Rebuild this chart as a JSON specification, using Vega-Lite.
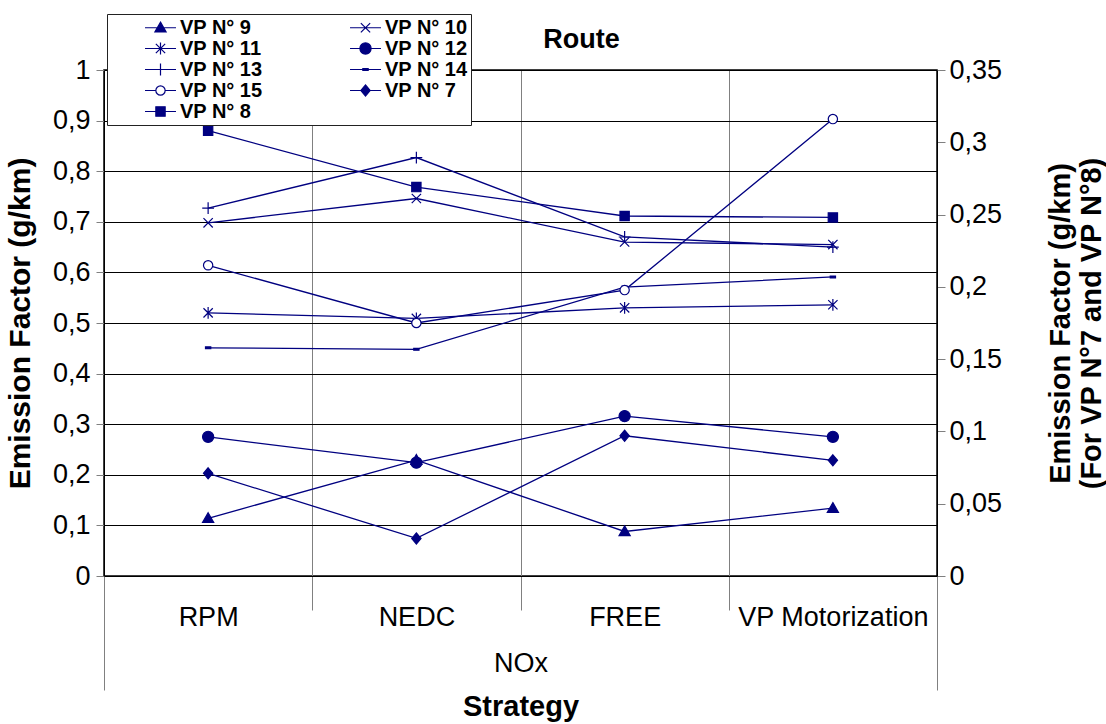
{
  "$schema": "https://vega.github.io/schema/vega-lite/v6.json",
  "width": 833,
  "height": 506,
  "autosize": {"type": "none"},
  "padding": {"left": 104, "top": 70, "right": 169, "bottom": 148},
  "background": "white",
  "config": {
    "font": "Liberation Sans",
    "view": {"stroke": "#000", "strokeWidth": 1.5},
    "axis": {
      "labelFont": "Liberation Sans",
      "labelFontSize": 27,
      "labelColor": "#000",
      "labelLimit": 0,
      "titleFont": "Liberation Sans",
      "titleFontSize": 30,
      "titleFontWeight": "bold",
      "titleColor": "#000",
      "domainColor": "#000",
      "tickColor": "#808080"
    },
    "legend": {
      "direction": "horizontal",
      "columns": 2,
      "columnPadding": 84,
      "rowPadding": 0,
      "padding": 3,
      "symbolSize": 361,
      "symbolStrokeColor": "#000080",
      "symbolStrokeWidth": 1.2,
      "labelFont": "Liberation Sans",
      "labelFontSize": 20,
      "labelFontWeight": "bold",
      "labelColor": "#000",
      "labelOffset": 9,
      "labelLimit": 0,
      "fillColor": "white",
      "strokeColor": "#222",
      "titleOrient": "left",
      "titlePadding": 40,
      "titleFontSize": 21
    }
  },
  "title": {
    "text": "Route",
    "font": "Liberation Sans",
    "fontSize": 27,
    "fontWeight": "bold",
    "color": "#000",
    "anchor": "middle",
    "frame": "group",
    "offset": 0,
    "dx": 61,
    "dy": 40
  },
  "datasets": {
    "ef": [
      {"strategy": "RPM", "vehicle": "VP N° 9", "value": 0.114},
      {"strategy": "NEDC", "vehicle": "VP N° 9", "value": 0.229},
      {"strategy": "FREE", "vehicle": "VP N° 9", "value": 0.088},
      {"strategy": "VP Motorization", "vehicle": "VP N° 9", "value": 0.134},
      {"strategy": "RPM", "vehicle": "VP N° 10", "value": 0.698},
      {"strategy": "NEDC", "vehicle": "VP N° 10", "value": 0.746},
      {"strategy": "FREE", "vehicle": "VP N° 10", "value": 0.660},
      {"strategy": "VP Motorization", "vehicle": "VP N° 10", "value": 0.655},
      {"strategy": "RPM", "vehicle": "VP N° 11", "value": 0.520},
      {"strategy": "NEDC", "vehicle": "VP N° 11", "value": 0.509},
      {"strategy": "FREE", "vehicle": "VP N° 11", "value": 0.530},
      {"strategy": "VP Motorization", "vehicle": "VP N° 11", "value": 0.536},
      {"strategy": "RPM", "vehicle": "VP N° 12", "value": 0.275},
      {"strategy": "NEDC", "vehicle": "VP N° 12", "value": 0.224},
      {"strategy": "FREE", "vehicle": "VP N° 12", "value": 0.316},
      {"strategy": "VP Motorization", "vehicle": "VP N° 12", "value": 0.275},
      {"strategy": "RPM", "vehicle": "VP N° 13", "value": 0.727},
      {"strategy": "NEDC", "vehicle": "VP N° 13", "value": 0.827},
      {"strategy": "FREE", "vehicle": "VP N° 13", "value": 0.670},
      {"strategy": "VP Motorization", "vehicle": "VP N° 13", "value": 0.650},
      {"strategy": "RPM", "vehicle": "VP N° 14", "value": 0.451},
      {"strategy": "NEDC", "vehicle": "VP N° 14", "value": 0.448},
      {"strategy": "FREE", "vehicle": "VP N° 14", "value": 0.571},
      {"strategy": "VP Motorization", "vehicle": "VP N° 14", "value": 0.591},
      {"strategy": "RPM", "vehicle": "VP N° 15", "value": 0.614},
      {"strategy": "NEDC", "vehicle": "VP N° 15", "value": 0.500},
      {"strategy": "FREE", "vehicle": "VP N° 15", "value": 0.565},
      {"strategy": "VP Motorization", "vehicle": "VP N° 15", "value": 0.903},
      {"strategy": "RPM", "vehicle": "VP N° 7", "value": 0.071},
      {"strategy": "NEDC", "vehicle": "VP N° 7", "value": 0.026},
      {"strategy": "FREE", "vehicle": "VP N° 7", "value": 0.097},
      {"strategy": "VP Motorization", "vehicle": "VP N° 7", "value": 0.080},
      {"strategy": "RPM", "vehicle": "VP N° 8", "value": 0.308},
      {"strategy": "NEDC", "vehicle": "VP N° 8", "value": 0.269},
      {"strategy": "FREE", "vehicle": "VP N° 8", "value": 0.249},
      {"strategy": "VP Motorization", "vehicle": "VP N° 8", "value": 0.248}
    ],
    "pol": [{"pollutant": "NOx"}]
  },
  "resolve": {"scale": {"x": "independent", "y": "independent"}},
  "layer": [
    {
      "data": {"name": "ef"},
      "transform": [{"filter": "datum.vehicle !== 'VP N° 7' && datum.vehicle !== 'VP N° 8'"}],
      "encoding": {
        "x": {
          "field": "strategy",
          "type": "nominal",
          "sort": ["RPM", "NEDC", "FREE", "VP Motorization"],
          "scale": {"type": "band", "domain": ["RPM", "NEDC", "FREE", "VP Motorization"], "paddingInner": 0, "paddingOuter": 0},
          "axis": {
            "orient": "bottom",
            "tickBand": "extent",
            "grid": true,
            "gridColor": "#808080",
            "gridWidth": 1,
            "ticks": true,
            "tickSize": 34,
            "tickColor": "#808080",
            "domainColor": "#000",
            "labelPadding": -6,
            "labelAngle": 0,
            "title": null
          }
        },
        "y": {
          "field": "value",
          "type": "quantitative",
          "scale": {"domain": [0, 1], "nice": false},
          "axis": {
            "orient": "left",
            "values": [0, 0.1, 0.2, 0.3, 0.4, 0.5, 0.6, 0.7, 0.8, 0.9, 1],
            "grid": true,
            "gridColor": "#000",
            "gridWidth": 1,
            "tickSize": 8,
            "labelPadding": 6,
            "labelExpr": "replace(format(datum.value, '.2~f'), '.', ',')",
            "title": "Emission Factor (g/km)",
            "titlePadding": 17
          }
        }
      },
      "layer": [
        {
          "mark": {"type": "line", "color": "#000080", "strokeWidth": 1.3},
          "encoding": {"detail": {"field": "vehicle"}}
        },
        {
          "mark": {"type": "point", "filled": true, "size": 961, "stroke": "#000080", "strokeWidth": 1.2, "opacity": 1},
          "encoding": {
            "shape": {
              "field": "vehicle",
              "type": "nominal",
              "scale": {
                "domain": ["VP N° 8", "VP N° 7", "VP N° 15", "VP N° 14", "VP N° 13", "VP N° 12", "VP N° 11", "VP N° 10", "VP N° 9"],
                "range": [
                  "M-0.3,-0.3L0.3,-0.3L0.3,0.3L-0.3,0.3Z",
                  "M0,-0.36L0.3,0L0,0.36L-0.3,0Z",
                  "M-0.3,0A0.3,0.3,0,1,0,0.3,0A0.3,0.3,0,1,0,-0.3,0Z",
                  "M-0.17,-0.06L0.17,-0.06L0.17,0.06L-0.17,0.06Z",
                  "M-0.38,0L0.38,0M0,-0.38L0,0.38",
                  "M-0.36,0A0.36,0.36,0,1,0,0.36,0A0.36,0.36,0,1,0,-0.36,0Z",
                  "M-0.3,-0.3L0.3,0.3M-0.3,0.3L0.3,-0.3M0,-0.38L0,0.38",
                  "M-0.3,-0.3L0.3,0.3M-0.3,0.3L0.3,-0.3",
                  "M0,-0.36L0.36,0.27L-0.36,0.27Z"
                ]
              },
              "legend": null
            },
            "fill": {
              "field": "vehicle",
              "type": "nominal",
              "scale": {
                "domain": ["VP N° 9", "VP N° 10", "VP N° 11", "VP N° 12", "VP N° 13", "VP N° 14", "VP N° 15", "VP N° 7", "VP N° 8"],
                "range": ["#000080", "#000080", "#000080", "#000080", "#000080", "#000080", "#ffffff", "#000080", "#000080"]
              },
              "legend": {
                "title": "\u00a0",
                "orient": "none",
                "legendX": 3,
                "legendY": -56,
                "direction": "horizontal",
                "columns": 2,
                "symbolType": {"expr": "datum.value === 'VP N° 9' ? 'M-1.63,0L1.63,0M0,-0.59L0.59,0.44L-0.59,0.44Z' : datum.value === 'VP N° 10' ? 'M-1.63,0L1.63,0M-0.49,-0.49L0.49,0.49M-0.49,0.49L0.49,-0.49' : datum.value === 'VP N° 11' ? 'M-1.63,0L1.63,0M-0.49,-0.49L0.49,0.49M-0.49,0.49L0.49,-0.49M0,-0.62L0,0.62' : datum.value === 'VP N° 12' ? 'M-1.63,0L1.63,0M-0.59,0A0.59,0.59,0,1,0,0.59,0A0.59,0.59,0,1,0,-0.59,0Z' : datum.value === 'VP N° 13' ? 'M-1.63,0L1.63,0M0,-0.62L0,0.62' : datum.value === 'VP N° 14' ? 'M-1.63,0L1.63,0M-0.28,-0.1L0.28,-0.1L0.28,0.1L-0.28,0.1Z' : datum.value === 'VP N° 15' ? 'M-1.63,0L-0.49,0M0.49,0L1.63,0M-0.49,0A0.49,0.49,0,1,0,0.49,0A0.49,0.49,0,1,0,-0.49,0Z' : datum.value === 'VP N° 7' ? 'M-1.63,0L1.63,0M0,-0.59L0.49,0L0,0.59L-0.49,0Z' : 'M-1.63,0L1.63,0M-0.49,-0.49L0.49,-0.49L0.49,0.49L-0.49,0.49Z'"},
                "encode": {
                  "symbols": {
                    "stroke": {"value": "#000080"},
                    "strokeWidth": {"value": 1.2}
                  }
                }
              }
            }
          }
        }
      ]
    },
    {
      "data": {"name": "ef"},
      "transform": [{"filter": "datum.vehicle === 'VP N° 7' || datum.vehicle === 'VP N° 8'"}],
      "encoding": {
        "x": {
          "field": "strategy",
          "type": "nominal",
          "sort": ["RPM", "NEDC", "FREE", "VP Motorization"],
          "scale": {"type": "band", "domain": ["RPM", "NEDC", "FREE", "VP Motorization"], "paddingInner": 0, "paddingOuter": 0},
          "axis": null
        },
        "y": {
          "field": "value",
          "type": "quantitative",
          "scale": {"domain": [0, 0.35], "nice": false},
          "axis": {
            "orient": "right",
            "values": [0, 0.05, 0.1, 0.15, 0.2, 0.25, 0.3, 0.35],
            "grid": false,
            "tickSize": 8,
            "labelPadding": 4,
            "labelExpr": "replace(format(datum.value, '.2~f'), '.', ',')",
            "title": ["Emission Factor (g/km)", "(For VP N°7 and VP N°8)"],
            "titleAngle": 270,
            "titleFontSize": 29,
            "titlePadding": 43
          }
        }
      },
      "layer": [
        {
          "mark": {"type": "line", "color": "#000080", "strokeWidth": 1.3},
          "encoding": {"detail": {"field": "vehicle"}}
        },
        {
          "mark": {"type": "point", "filled": true, "size": 961, "stroke": "#000080", "strokeWidth": 1.2, "opacity": 1},
          "encoding": {
            "shape": {
              "field": "vehicle",
              "type": "nominal",
              "scale": {
                "domain": ["VP N° 8", "VP N° 7", "VP N° 15", "VP N° 14", "VP N° 13", "VP N° 12", "VP N° 11", "VP N° 10", "VP N° 9"],
                "range": [
                  "M-0.3,-0.3L0.3,-0.3L0.3,0.3L-0.3,0.3Z",
                  "M0,-0.36L0.3,0L0,0.36L-0.3,0Z",
                  "M-0.3,0A0.3,0.3,0,1,0,0.3,0A0.3,0.3,0,1,0,-0.3,0Z",
                  "M-0.17,-0.06L0.17,-0.06L0.17,0.06L-0.17,0.06Z",
                  "M-0.38,0L0.38,0M0,-0.38L0,0.38",
                  "M-0.36,0A0.36,0.36,0,1,0,0.36,0A0.36,0.36,0,1,0,-0.36,0Z",
                  "M-0.3,-0.3L0.3,0.3M-0.3,0.3L0.3,-0.3M0,-0.38L0,0.38",
                  "M-0.3,-0.3L0.3,0.3M-0.3,0.3L0.3,-0.3",
                  "M0,-0.36L0.36,0.27L-0.36,0.27Z"
                ]
              },
              "legend": null
            },
            "fill": {
              "field": "vehicle",
              "type": "nominal",
              "scale": {
                "domain": ["VP N° 9", "VP N° 10", "VP N° 11", "VP N° 12", "VP N° 13", "VP N° 14", "VP N° 15", "VP N° 7", "VP N° 8"],
                "range": ["#000080", "#000080", "#000080", "#000080", "#000080", "#000080", "#ffffff", "#000080", "#000080"]
              },
              "legend": {
                "title": "\u00a0",
                "orient": "none",
                "legendX": 3,
                "legendY": -56,
                "direction": "horizontal",
                "columns": 2,
                "symbolType": {"expr": "datum.value === 'VP N° 9' ? 'M-1.63,0L1.63,0M0,-0.59L0.59,0.44L-0.59,0.44Z' : datum.value === 'VP N° 10' ? 'M-1.63,0L1.63,0M-0.49,-0.49L0.49,0.49M-0.49,0.49L0.49,-0.49' : datum.value === 'VP N° 11' ? 'M-1.63,0L1.63,0M-0.49,-0.49L0.49,0.49M-0.49,0.49L0.49,-0.49M0,-0.62L0,0.62' : datum.value === 'VP N° 12' ? 'M-1.63,0L1.63,0M-0.59,0A0.59,0.59,0,1,0,0.59,0A0.59,0.59,0,1,0,-0.59,0Z' : datum.value === 'VP N° 13' ? 'M-1.63,0L1.63,0M0,-0.62L0,0.62' : datum.value === 'VP N° 14' ? 'M-1.63,0L1.63,0M-0.28,-0.1L0.28,-0.1L0.28,0.1L-0.28,0.1Z' : datum.value === 'VP N° 15' ? 'M-1.63,0L-0.49,0M0.49,0L1.63,0M-0.49,0A0.49,0.49,0,1,0,0.49,0A0.49,0.49,0,1,0,-0.49,0Z' : datum.value === 'VP N° 7' ? 'M-1.63,0L1.63,0M0,-0.59L0.49,0L0,0.59L-0.49,0Z' : 'M-1.63,0L1.63,0M-0.49,-0.49L0.49,-0.49L0.49,0.49L-0.49,0.49Z'"},
                "encode": {
                  "symbols": {
                    "stroke": {"value": "#000080"},
                    "strokeWidth": {"value": 1.2}
                  }
                }
              }
            }
          }
        }
      ]
    },
    {
      "data": {"name": "pol"},
      "mark": {"type": "text", "text": ""},
      "encoding": {
        "x": {
          "field": "pollutant",
          "type": "nominal",
          "scale": {"type": "band", "paddingInner": 0, "paddingOuter": 0},
          "axis": {
            "orient": "bottom",
            "domain": false,
            "tickBand": "extent",
            "grid": false,
            "tickSize": 114,
            "tickColor": "#808080",
            "labelPadding": -40,
            "labelAngle": 0,
            "title": "Strategy",
            "titleFontSize": 29,
            "titlePadding": 2
          }
        }
      }
    }
  ]
}
